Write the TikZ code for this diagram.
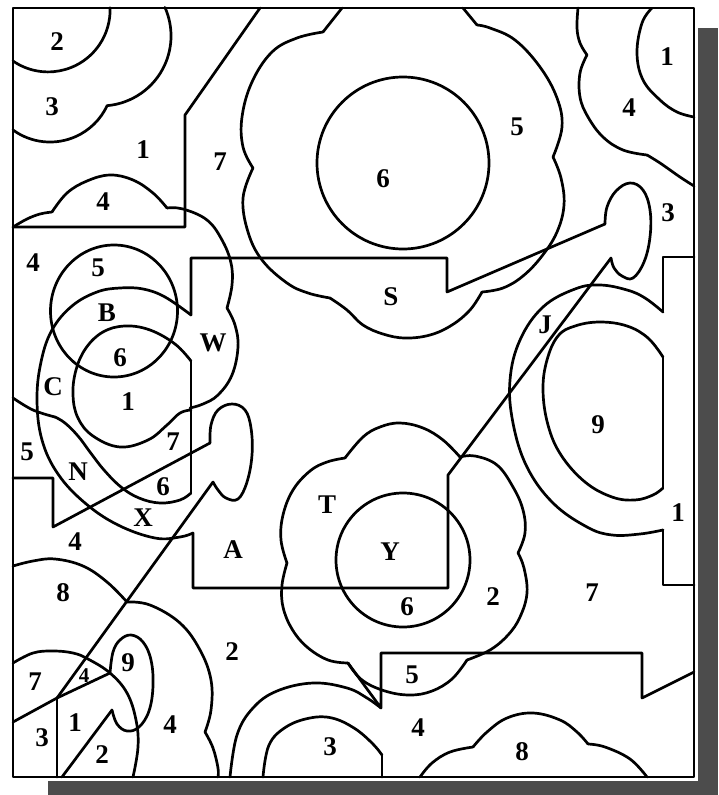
\documentclass[tikz,border=0pt]{standalone}
\usepackage{fontspec}
\setmainfont{Liberation Serif}
\begin{document}
\begin{tikzpicture}[x=1pt,y=-1pt,
  ln/.style={line width=2.7pt,line join=round,line cap=round},
  sm/.style={smooth,tension=0.65},
  lbl/.style={font=\fontsize{27}{27}\selectfont\bfseries,inner sep=0pt},
  smalllbl/.style={font=\fontsize{21}{21}\selectfont\bfseries,inner sep=0pt},
  shadowfill/.style={fill=black!70}]
\useasboundingbox (0,0) rectangle (718,795);
\fill[white] (0,0) rectangle (718,795);
\fill[shadowfill] (698,28) rectangle (718,795);
\fill[shadowfill] (48,781) rectangle (718,795);
\draw[ln] (13,8) rectangle (694,777);
% top-left
\draw[ln] (13,61) arc[start angle=124.5,end angle=-2,radius=62];
\draw[ln] (13,130) arc[start angle=126,end angle=25,radius=63] arc[start angle=85,end angle=-24,radius=70];
\draw[ln] (13,227) -- (185,227) -- (185,115) -- (260,8);
% W cloud
\draw[ln] plot[sm] coordinates {(13,227) (27,219) (40,214) (52,212)};
\draw[ln] plot[sm] coordinates {(52,212) (67,193) (87,181) (110,175) (133,180) (153,193) (167,208)};
\draw[ln] plot[sm] coordinates {(167,208) (183,209) (207,220) (222,240) (231,263) (232,285) (227,308)};
\draw[ln] plot[sm] coordinates {(227,308) (235,325) (238,347) (232,375) (218,395) (203,404) (190,408)};
% circle 5
\draw[ln] (114,311) ellipse[x radius=63.5,y radius=66];
% big curve C N X
\draw[ln] plot[sm] coordinates {(191,315) (165,297) (143,289) (120,288) (97,292) (72,306) (52,330) (41,362) (37,400) (42,440) (58,474) (85,503) (118,525) (155,538) (180,537) (193,533)};
% shape 1
\draw[ln] plot[sm] coordinates {(191,361) (175,344) (150,330) (125,326) (103,332) (86,348) (76,370) (73,395) (78,418) (93,436) (120,447) (148,440) (167,425) (180,413) (191,410)};
\draw[ln] (191,361) -- (191,493);
% lower 6 curve
\draw[ln] plot[sm] coordinates {(13,398) (33,410) (55,417)};
\draw[ln] plot[sm] coordinates {(55,417) (65,423) (78,436) (90,452) (104,470) (121,487) (139,498) (160,503) (180,500) (191,493)};
% left polygon and keyhole
\draw[ln] (13,478) -- (53,478) -- (53,527) -- (210,443);
\draw[ln] plot[sm] coordinates {(210,443) (211,425) (218,410) (232,404) (245,410) (251,428) (252,455) (247,482) (238,499) (226,498) (218,490) (213,482)};
\draw[ln] (213,482) -- (57,698);
% A polygon
\draw[ln] (193,533) -- (193,588) -- (448,588) -- (448,475) -- (611,258);
% S polygon and keyhole
\draw[ln] (191,315) -- (191,258) -- (447,258) -- (447,292) -- (605,224);
\draw[ln] plot[sm] coordinates {(605,224) (607,207) (616,191) (630,183) (643,190) (650,210) (650,237) (644,262) (633,278) (622,276) (614,268) (611,258)};
% S cloud
\draw[ln] (342,8) -- (323,32);
\draw[ln] plot[sm] coordinates {(323,32) (297,38) (272,52) (252,82) (242,117) (243,147) (253,168)};
\draw[ln] plot[sm] coordinates {(253,168) (243,198) (248,232) (262,260) (287,283) (308,293) (330,298)};
\draw[ln] plot[sm] coordinates {(330,298) (347,310) (363,325) (383,334) (405,338) (430,335) (452,325) (470,310) (482,292)};
\draw[ln] plot[sm] coordinates {(482,292) (503,288) (523,276) (542,256) (557,232) (564,205) (561,178) (553,157)};
\draw[ln] plot[sm] coordinates {(553,157) (562,127) (557,98) (540,67) (515,40) (490,28) (477,25)};
\draw[ln] (477,25) -- (463,8);
\draw[ln] (403,163) circle[radius=86];
% top right
\draw[ln] plot[sm] coordinates {(652,8) (642,23) (637,53) (643,80) (660,100) (677,112) (694,117)};
\draw[ln] plot[sm] coordinates {(578,8) (577,28) (580,43) (587,55)};
\draw[ln] plot[sm] coordinates {(587,55) (580,73) (580,97) (588,117) (603,137) (623,150) (647,155)};
\draw[ln] plot[sm] coordinates {(647,155) (660,163) (680,177) (694,186)};
% right polygon J
\draw[ln] (694,257) -- (663,257) -- (663,312);
\draw[ln] plot[sm] coordinates {(663,312) (645,298) (627,290) (600,285) (575,289) (543,307) (520,340) (510,380) (513,423) (527,467) (553,503) (587,527) (612,535) (640,534) (663,530)};
\draw[ln] (663,530) -- (663,585) -- (694,585);
% D shape 9
\draw[ln] plot[sm] coordinates {(663,357) (648,338) (627,326) (600,322) (575,326) (558,336) (547,360) (543,390) (548,425) (561,455) (585,482) (612,497) (635,500) (653,495) (663,488)};
\draw[ln] (663,488) -- (663,357);
% T cloud
\draw[ln] plot[sm] coordinates {(345,458) (363,437) (380,427) (400,423) (423,428) (443,440) (460,457)};
\draw[ln] plot[sm] coordinates {(460,457) (475,456) (497,465) (513,487) (523,510) (525,533) (518,553)};
\draw[ln] plot[sm] coordinates {(518,553) (524,568) (527,593) (520,617) (508,635) (490,650) (467,660)};
\draw[ln] plot[sm] coordinates {(467,660) (452,679) (432,691) (410,695) (385,691) (362,680) (348,663)};
\draw[ln] plot[sm] coordinates {(348,663) (328,660) (307,647) (292,629) (283,607) (282,585) (287,563)};
\draw[ln] plot[sm] coordinates {(287,563) (281,540) (283,515) (293,490) (310,471) (327,462) (345,458)};
\draw[ln] (403,560) circle[radius=67];
% bottom polygon
\draw[ln] (348,663) -- (381,708) -- (381,653) -- (642,653) -- (642,698) -- (694,672);
\draw[ln] plot[sm] coordinates {(230,777) (237,735) (253,708) (277,691) (313,683) (347,688) (367,698) (381,708)};
\draw[ln] plot[sm] coordinates {(263,777) (269,745) (286,727) (310,718) (332,718) (354,728) (372,743) (382,755)};
\draw[ln] (382,755) -- (382,777);
\draw[ln] plot[sm] coordinates {(420,777) (432,763) (450,752) (473,747)};
\draw[ln] plot[sm] coordinates {(473,747) (487,732) (507,718) (533,713) (560,720) (577,732) (588,744)};
\draw[ln] plot[sm] coordinates {(588,744) (605,747) (630,759) (647,777)};
% bottom-left
\draw[ln] plot[sm] coordinates {(13,566) (33,561) (55,559) (83,566) (107,582) (127,602)};
\draw[ln] plot[sm] coordinates {(127,602) (150,605) (180,623) (200,650) (211,680) (211,710) (205,732)};
\draw[ln] plot[sm] coordinates {(205,732) (213,748) (218,768) (218,777)};
\draw[ln] plot[sm] coordinates {(13,663) (33,653) (53,651) (73,653) (88,659) (110,673) (127,693) (136,720) (138,747) (133,777)};
\draw[ln] (13,722) -- (57,698) -- (110,673);
\draw[ln] (57,698) -- (57,777);
\draw[ln] plot[sm] coordinates {(110,673) (113,652) (120,640) (131,635) (143,642) (151,660) (153,686) (149,711) (139,727) (127,731) (117,724) (112,710)};
\draw[ln] (112,710) -- (62,777);
% labels
\node[lbl] (a1) at (57,42) {2};
\node[lbl] (a2) at (52,107) {3};
\node[lbl] (a3) at (143,150) {1};
\node[lbl] (a4) at (103,202) {4};
\node[lbl] (a5) at (220,162) {7};
\node[lbl] (a6) at (383,179) {6};
\node[lbl] (a7) at (391,297) {S};
\node[lbl] (a8) at (517,127) {5};
\node[lbl] (a9) at (667,57) {1};
\node[lbl] (a10) at (629,108) {4};
\node[lbl] (a11) at (668,213) {3};
\node[lbl] (a12) at (545,325) {J};
\node[lbl] (a13) at (598,425) {9};
\node[lbl] (a14) at (678,513) {1};
\node[lbl] (a15) at (493,597) {2};
\node[lbl] (a16) at (592,593) {7};
\node[lbl] (a17) at (33,263) {4};
\node[lbl] (a18) at (98,268) {5};
\node[lbl] (a19) at (107,313) {B};
\node[lbl] (a20) at (120,358) {6};
\node[lbl] (a21) at (213,343) {W};
\node[lbl] (a22) at (53,387) {C};
\node[lbl] (a23) at (128,402) {1};
\node[lbl] (a24) at (173,442) {7};
\node[lbl] (a25) at (27,452) {5};
\node[lbl] (a26) at (78,472) {N};
\node[lbl] (a27) at (163,487) {6};
\node[lbl] (a28) at (143,518) {X};
\node[lbl] (a29) at (75,542) {4};
\node[lbl] (a30) at (233,550) {A};
\node[lbl] (a31) at (63,593) {8};
\node[lbl] (a32) at (232,652) {2};
\node[lbl] (a33) at (35,682) {7};
\node[smalllbl] (a34) at (84,676) {4};
\node[lbl] (a35) at (128,663) {9};
\node[lbl] (a36) at (75,723) {1};
\node[lbl] (a37) at (42,738) {3};
\node[lbl] (a38) at (102,755) {2};
\node[lbl] (a39) at (170,725) {4};
\node[lbl] (a40) at (327,505) {T};
\node[lbl] (a41) at (390,552) {Y};
\node[lbl] (a42) at (407,607) {6};
\node[lbl] (a43) at (412,675) {5};
\node[lbl] (a44) at (330,747) {3};
\node[lbl] (a45) at (418,728) {4};
\node[lbl] (a46) at (522,752) {8};
\end{tikzpicture}
\end{document}
